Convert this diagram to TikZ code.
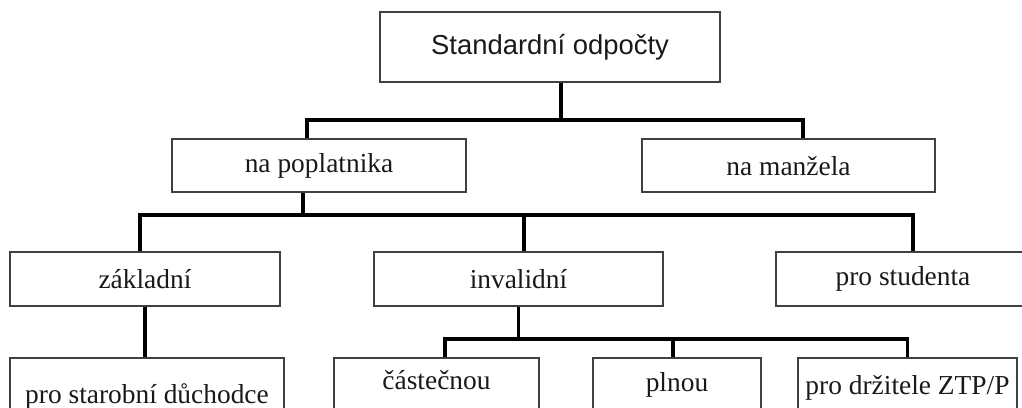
\documentclass[tikz,border=0pt]{standalone}
\usepackage{fontspec}
\setmainfont{Liberation Serif}
\newfontfamily\headfont{Liberation Sans}
\usepackage{tikz}

\begin{document}
\begin{tikzpicture}[box/.style={draw=black!75,line width=1.5pt,inner xsep=2pt,font=\fontsize{19.5}{23}\selectfont,text=black!90},
    low/.style={box,anchor=north,inner ysep=0pt,text depth=1.5cm},
    wire/.style={line width=2.6pt,black}]
        \useasboundingbox (0,0) rectangle (25.55,-10.2);
        \clip (0,0) rectangle (25.55,-10.2);
    	\node at (13.75,-1.175) [box,minimum width=8.5cm,minimum height=1.75cm,font=\headfont\fontsize{19.5}{23}\selectfont] (a) {Standardní odpočty};

        \node at (7.975,-4.14) [box,minimum width=7.35cm,minimum height=1.33cm] (b) {na poplatnika};
        \node at (19.7125,-4.14) [box,minimum width=7.325cm,minimum height=1.33cm] (c) {na manžela};

        \node at (3.625,-6.975) [box,minimum width=6.75cm,minimum height=1.35cm] (d) {základní};
        \node at (12.9625,-6.975) [box,minimum width=7.225cm,minimum height=1.35cm] (e) {invalidní};
        \node at (22.575,-6.975) [box,minimum width=6.35cm,minimum height=1.35cm] (f) {pro studenta};

        \node at (3.675,-8.925) [low,minimum width=6.85cm,text height=1.125cm] (g) {pro starobní důchodce};
        \node at (10.9125,-8.925) [low,minimum width=5.125cm,text height=0.775cm] (h) {částečnou};
        \node at (16.925,-8.925) [low,minimum width=4.2cm,text height=0.825cm] (i) {plnou};
        \node at (22.6875,-8.925) [low,minimum width=5.475cm,text height=0.9cm] (j) {pro držitele ZTP/P};

        \coordinate (u) at (14.025,-3.0);
        \coordinate (v) at (7.575,-5.375);
        \coordinate (w) at (12.9625,-8.475);
        \draw[wire] (a.south -| u) -- (u) ([xshift=-0.3cm]b.north) |- (u) -| ([xshift=0.3625cm]c.north);
        \draw[wire] (b.south -| v) -- (v) ([xshift=-0.125cm]d.north) |- (v) -| ([xshift=0.25cm]f.north) ([xshift=0.1375cm]e.north) -- ([xshift=0.1375cm]e.north |- v);
        \draw[wire] (d.south) -- (d.south |- g.north) (e.south) -- (w) ([xshift=0.2125cm]h.north) |- (w) -| (j.north) ([xshift=-0.1cm]i.north) -- ([xshift=-0.1cm]i.north |- w);
        \end{tikzpicture}
\end{document}
